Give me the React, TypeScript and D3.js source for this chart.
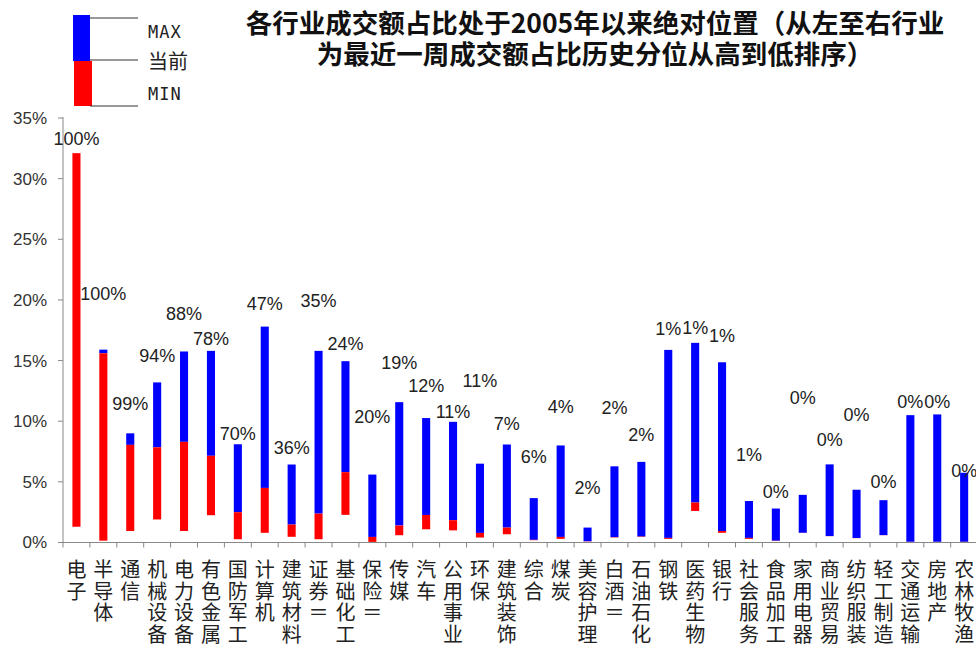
import React, { useEffect, useRef } from 'react';
import * as d3 from 'd3';

const categories = [
  '电子', '半导体', '通信', '机械设备', '电力设备', '有色金属', '国防军工', '计算机',
  '建筑材料', '证券＝', '基础化工', '保险＝', '传媒', '汽车', '公用事业', '环保',
  '建筑装饰', '综合', '煤炭', '美容护理', '白酒＝', '石油石化', '钢铁', '医药生物',
  '银行', '社会服务', '食品加工', '家用电器', '商业贸易', '纺织服装', '轻工制造',
  '交通运输', '房地产', '农林牧渔',
];

// share of turnover (%), since 2005
const minValues = [
  1.3, 0.15, 0.95, 1.9, 0.95, 2.25, 0.27, 0.8, 0.47, 0.27, 2.28, 0.05, 0.6, 1.09, 1.0, 0.41,
  0.68, 0.19, 0.3, 0.08, 0.41, 0.46, 0.3, 2.6, 0.8, 0.3, 0.13, 0.79, 0.52, 0.36, 0.6,
  0.05, 0.05, 0.05,
];
const currentValues = [
  32.1, 15.6, 8.05, 7.85, 8.3, 7.15, 2.5, 4.5, 1.48, 2.38, 5.8, 0.46, 1.4, 2.27, 1.84, 0.79,
  1.23, 0.22, 0.46, 0.1, 0.44, 0.49, 0.38, 3.3, 0.95, 0.38, 0.15, 0.8, 0.53, 0.37, 0.61,
  0.06, 0.06, 0.06,
];
const maxValues = [
  32.1, 15.9, 9.0, 13.2, 15.75, 15.8, 8.1, 17.8, 6.43, 15.8, 14.95, 5.6, 11.57, 10.26, 9.95, 6.5,
  8.08, 3.66, 8.0, 1.23, 6.28, 6.65, 15.88, 16.46, 14.86, 3.42, 2.8, 3.93, 6.44, 4.35, 3.49,
  10.5, 10.56, 5.75,
];
// percentile of the latest week
const percentileLabels = [
  '100%', '100%', '99%', '94%', '88%', '78%', '70%', '47%', '36%', '35%', '24%', '20%', '19%',
  '12%', '11%', '11%', '7%', '6%', '4%', '2%', '2%', '2%', '1%', '1%', '1%', '1%', '0%', '0%',
  '0%', '0%', '0%', '0%', '0%', '0%',
];
// height of the (invisible) label series
const labelValues = [
  33.3, 20.5, 11.45, 15.4, 18.85, 16.8, 9.0, 19.7, 7.85, 19.95, 16.4, 10.35, 14.85, 12.95, 10.8,
  13.35, 9.8, 7.1, 11.2, 4.55, 11.1, 8.85, 17.65, 17.75, 17.05, 7.2, 4.2, 11.95, 8.5, 10.5, 5.05,
  11.65, 11.65, 5.95,
];
const yTicks = [0, 5, 10, 15, 20, 25, 30, 35];
const titleLines = [
  '各行业成交额占比处于2005年以来绝对位置（从左至右行业',
  '为最近一周成交额占比历史分位从高到低排序）',
];

const BLUE = '#0000ff';
const RED = '#ff0000';

export default function App() {
  const ref = useRef<SVGSVGElement>(null);

  useEffect(() => {
    const width = 976;
    const height = 648;
    const svg = d3.select(ref.current);
    svg.selectAll('*').remove();

    const x0 = 63;
    const step = 26.9;
    const xScale = d3
      .scaleBand()
      .domain(categories)
      .range([x0, x0 + step * categories.length])
      .paddingInner(0.7)
      .paddingOuter(0.35);
    const yScale = d3.scaleLinear().domain([0, 35]).range([542.5, 118]);

    const axisColor = '#888';
    const numFont = '"Liberation Sans", Arial, sans-serif';
    const cjkFont = '"Noto Sans CJK SC", sans-serif';

    // title
    svg
      .append('g')
      .selectAll('text')
      .data(titleLines)
      .join('text')
      .attr('x', 595)
      .attr('y', (d, i) => 33 + i * 31)
      .attr('text-anchor', 'middle')
      .attr('font-family', cjkFont)
      .attr('font-weight', 'bold')
      .attr('font-size', 26.5)
      .attr('fill', '#111')
      .text((d) => d);

    // legend
    const legend = svg.append('g');
    legend.append('rect').attr('x', 73).attr('y', 15).attr('width', 17).attr('height', 46).attr('fill', BLUE);
    legend.append('rect').attr('x', 74).attr('y', 61).attr('width', 18).attr('height', 45).attr('fill', RED);
    [18, 60, 106].forEach((ly) => {
      legend
        .append('line')
        .attr('x1', 90)
        .attr('x2', 138)
        .attr('y1', ly)
        .attr('y2', ly)
        .attr('stroke', '#333')
        .attr('stroke-width', 1);
    });
    const legendText = [
      { t: 'MAX', y: 38, mono: true },
      { t: '当前', y: 69, mono: false },
      { t: 'MIN', y: 100, mono: true },
    ];
    legend
      .selectAll('text')
      .data(legendText)
      .join('text')
      .attr('x', 148)
      .attr('y', (d) => d.y)
      .attr('font-family', (d) => (d.mono ? '"DejaVu Sans Mono", monospace' : cjkFont))
      .attr('font-size', (d) => (d.mono ? 17 : 20))
      .attr('letter-spacing', (d) => (d.mono ? 1 : 0))
      .attr('fill', '#222')
      .text((d) => d.t);

    // y axis
    const yAxis = svg.append('g');
    yAxis
      .append('line')
      .attr('x1', x0)
      .attr('x2', x0)
      .attr('y1', yScale(35) - 1)
      .attr('y2', yScale(0))
      .attr('stroke', axisColor);
    const yt = yAxis.selectAll('g.tick').data(yTicks).join('g').attr('class', 'tick');
    yt.append('line')
      .attr('x1', x0 - 5)
      .attr('x2', x0)
      .attr('y1', (d) => yScale(d))
      .attr('y2', (d) => yScale(d))
      .attr('stroke', axisColor);
    yt.append('text')
      .attr('x', 47)
      .attr('y', (d) => yScale(d))
      .attr('dy', '0.35em')
      .attr('text-anchor', 'end')
      .attr('font-family', numFont)
      .attr('font-size', 17)
      .attr('fill', '#333')
      .text((d) => `${d}%`);

    // x axis
    const xAxis = svg.append('g');
    xAxis
      .append('line')
      .attr('x1', x0)
      .attr('x2', width)
      .attr('y1', yScale(0))
      .attr('y2', yScale(0))
      .attr('stroke', axisColor);
    xAxis
      .selectAll('line.tick')
      .data(d3.range(categories.length + 1))
      .join('line')
      .attr('class', 'tick')
      .attr('x1', (i) => x0 + i * step)
      .attr('x2', (i) => x0 + i * step)
      .attr('y1', yScale(0))
      .attr('y2', yScale(0) + 5)
      .attr('stroke', axisColor);

    const bw = xScale.bandwidth();
    const cx = (c: string) => (xScale(c) as number) + bw / 2;

    // vertical category labels, one char per line
    const chars = categories.flatMap((c) => Array.from(c).map((ch, k) => ({ c, ch, k })));
    xAxis
      .selectAll('text.cat')
      .data(chars)
      .join('text')
      .attr('class', 'cat')
      .attr('x', (d) => cx(d.c))
      .attr('y', (d) => 577 + d.k * 21.7)
      .attr('text-anchor', 'middle')
      .attr('font-family', cjkFont)
      .attr('font-size', 20)
      .attr('fill', '#222')
      .text((d) => d.ch);

    // bars: blue from current to max, red from min to current
    const bars = svg.append('g');
    bars
      .selectAll('rect.max')
      .data(categories)
      .join('rect')
      .attr('class', 'max')
      .attr('x', (c) => xScale(c) as number)
      .attr('width', bw)
      .attr('y', (c, i) => yScale(maxValues[i]))
      .attr('height', (c, i) => yScale(currentValues[i]) - yScale(maxValues[i]))
      .attr('fill', BLUE);
    bars
      .selectAll('rect.min')
      .data(categories)
      .join('rect')
      .attr('class', 'min')
      .attr('x', (c) => xScale(c) as number)
      .attr('width', bw)
      .attr('y', (c, i) => yScale(currentValues[i]))
      .attr('height', (c, i) => yScale(minValues[i]) - yScale(currentValues[i]))
      .attr('fill', RED);

    // percentile labels
    svg
      .append('g')
      .selectAll('text')
      .data(categories)
      .join('text')
      .attr('x', (c) => cx(c))
      .attr('y', (c, i) => yScale(labelValues[i]))
      .attr('dy', '0.35em')
      .attr('text-anchor', 'middle')
      .attr('font-family', numFont)
      .attr('font-size', 18)
      .attr('fill', '#222')
      .text((c, i) => percentileLabels[i]);

    svg.attr('width', width).attr('height', height);
  }, []);

  return (
    <div style={{ position: 'absolute', left: 0, top: 0 }}>
      <svg ref={ref} width={976} height={648} style={{ display: 'block', background: '#fff' }} />
    </div>
  );
}
